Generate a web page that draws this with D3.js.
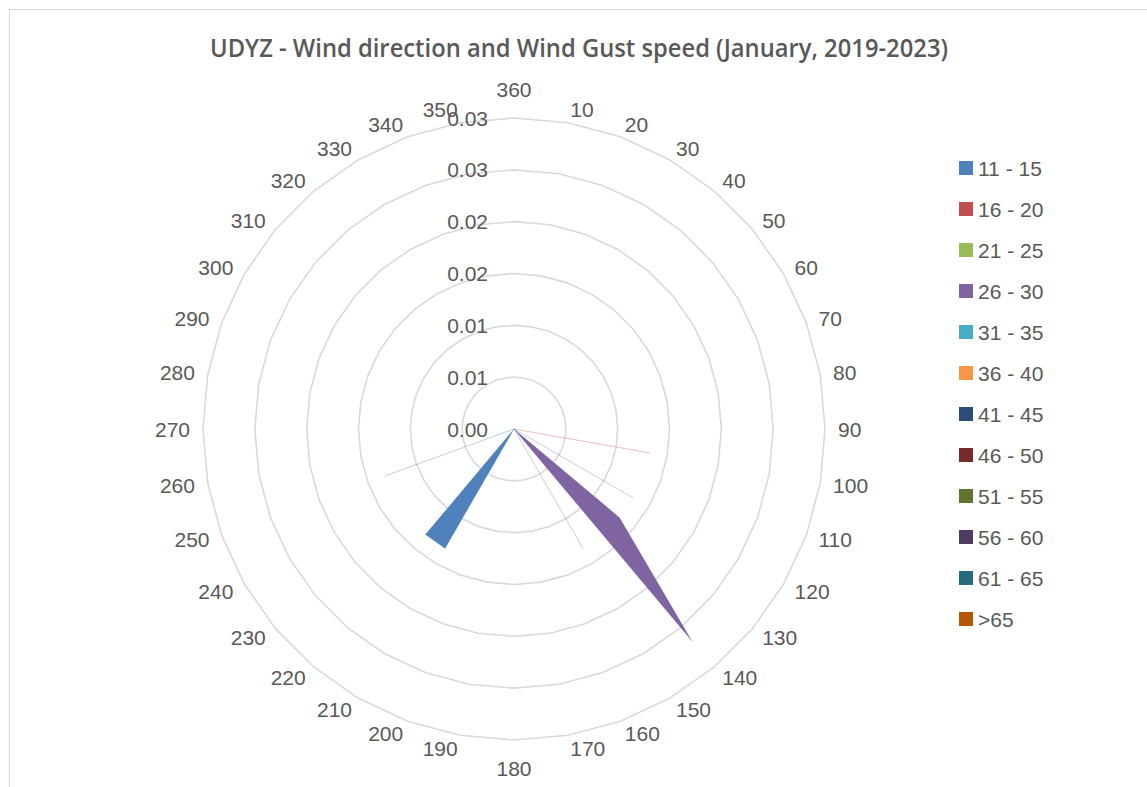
<!DOCTYPE html>
<html>
<head>
<meta charset="utf-8">
<script src="https://cdn.jsdelivr.net/npm/d3@7/dist/d3.min.js"></script>
<style>
  html, body { margin: 0; padding: 0; background: #ffffff; }
  svg { display: block; }
</style>
</head>
<body>
<svg id="chart" width="1147" height="787"></svg>
<script>
// ---- data ----
const title = "UDYZ - Wind direction and Wind Gust speed (January, 2019-2023)";
const directions = [10,20,30,40,50,60,70,80,90,100,110,120,130,140,150,160,170,180,
                    190,200,210,220,230,240,250,260,270,280,290,300,310,320,330,340,350,360];
const seriesNames = ["11 - 15","16 - 20","21 - 25","26 - 30","31 - 35","36 - 40",
                     "41 - 45","46 - 50","51 - 55","56 - 60","61 - 65",">65"];
const seriesColors = ["#4F81BD","#C0504D","#9BBB59","#8064A2","#4BACC6","#F79646",
                      "#2C4D75","#772C2A","#5F7530","#4D3B62","#276A7C","#B65708"];
// values per direction (10..360)
const s11_15 = [0,0,0,0,0,0,0,0,0,0,0,0.0133,0,0,0.0133,0,0,0,0,0,0.0133,0.0133,0,0,0.0133,0,0,0,0,0,0,0,0,0,0,0];
const s16_20 = [0,0,0,0,0,0,0,0,0,0.0133,0,0,0,0,0,0,0,0,0,0,0,0,0,0,0,0,0,0,0,0,0,0,0,0,0,0];
const s21_25 = new Array(36).fill(0);
const s26_30 = [0,0,0,0,0,0,0,0,0,0,0,0,0.0133,0.0267,0,0,0,0,0,0,0,0,0,0,0,0,0,0,0,0,0,0,0,0,0,0];
const s31_35 = new Array(36).fill(0);
const s36_40 = new Array(36).fill(0);
const s41_45 = new Array(36).fill(0);
const s46_50 = new Array(36).fill(0);
const s51_55 = new Array(36).fill(0);
const s56_60 = new Array(36).fill(0);
const s61_65 = new Array(36).fill(0);
const s65p   = new Array(36).fill(0);
const seriesValues = [s11_15,s16_20,s21_25,s26_30,s31_35,s36_40,s41_45,s46_50,s51_55,s56_60,s61_65,s65p];
const radialTicks = [0,0.005,0.01,0.015,0.02,0.025,0.03];
const radialTickLabels = ["0.00","0.01","0.01","0.02","0.02","0.03","0.03"];

// ---- layout ----
const svg = d3.select("#chart");
const cx = 514, cy = 429, R = 311;
const textColor = "#595959";
const fontFamily = "'Liberation Sans', Arial, sans-serif";

svg.append("rect").attr("x",0).attr("y",0).attr("width",1147).attr("height",787).attr("fill","#fff");
svg.append("rect").attr("x",9.5).attr("y",9.5).attr("width",1300).attr("height",1000)
   .attr("fill","none").attr("stroke","#d9d9d9").attr("stroke-width",1);

const angle = d3.scaleLinear().domain([0,360]).range([0, 2*Math.PI]);
const r = d3.scaleLinear().domain([0,0.03]).range([0,R]);

const g = svg.append("g").attr("transform",`translate(${cx},${cy})`);

// grid rings (polygons)
const ringLine = d3.lineRadial()
  .angle(d => angle(d))
  .curve(d3.curveLinearClosed);
radialTicks.filter(t => t > 0).forEach(t => {
  g.append("path")
    .attr("d", ringLine.radius(() => r(t))(directions))
    .attr("fill","none").attr("stroke","#d9d9d9").attr("stroke-width",1.6);
});

// series areas
const area = d3.lineRadial()
  .angle((d,i) => angle(directions[i]))
  .radius(d => r(d))
  .curve(d3.curveLinearClosed);
seriesValues.forEach((vals, k) => {
  if (!vals.some(v => v > 0)) return;
  g.append("path")
    .attr("d", area(vals))
    .attr("fill", seriesColors[k])
    .attr("stroke", seriesColors[k])
    .attr("stroke-opacity", 0.22)
    .attr("stroke-width", 0.9);
});

// radial tick labels
radialTicks.forEach((t,i) => {
  svg.append("text")
    .attr("x", cx - 26)
    .attr("y", cy - r(t) + 7.5)
    .attr("text-anchor","end")
    .attr("font-family", fontFamily).attr("font-size", 21)
    .attr("fill", textColor)
    .text(radialTickLabels[i]);
});

// category labels
const R0 = R + 13;
directions.forEach(dir => {
  const a = angle(dir % 360);
  const px = cx + R0 * Math.sin(a), py = cy - R0 * Math.cos(a);
  let anchor, y;
  const deg = dir % 360;
  if (deg === 0) { anchor = "middle"; y = py - 8.5; }
  else if (deg === 180) { anchor = "middle"; y = py + 22.5; }
  else if (deg < 180) { anchor = "start"; y = py + 7.5; }
  else { anchor = "end"; y = py + 7.5; }
  svg.append("text")
    .attr("x", px).attr("y", y)
    .attr("text-anchor", anchor)
    .attr("font-family", fontFamily).attr("font-size", 21)
    .attr("fill", textColor)
    .text(dir);
});

// title
svg.append("text")
  .attr("x", 579).attr("y", 57)
  .attr("text-anchor","middle")
  .attr("font-family","'Open Sans', 'Noto Sans', sans-serif")
  .attr("font-weight", 600)
  .attr("font-size", 25)
  .attr("fill", textColor)
  .attr("textLength", 738)
  .attr("lengthAdjust","spacingAndGlyphs")
  .text(title);

// legend
const legend = svg.append("g");
seriesNames.forEach((name,i) => {
  const yc = 168 + i * 41;
  legend.append("rect")
    .attr("x", 959).attr("y", yc - 7).attr("width", 14).attr("height", 14)
    .attr("fill", seriesColors[i]);
  legend.append("text")
    .attr("x", 978).attr("y", yc + 7.5)
    .attr("font-family", fontFamily).attr("font-size", 21)
    .attr("fill", textColor)
    .text(name);
});
</script>
</body>
</html>
